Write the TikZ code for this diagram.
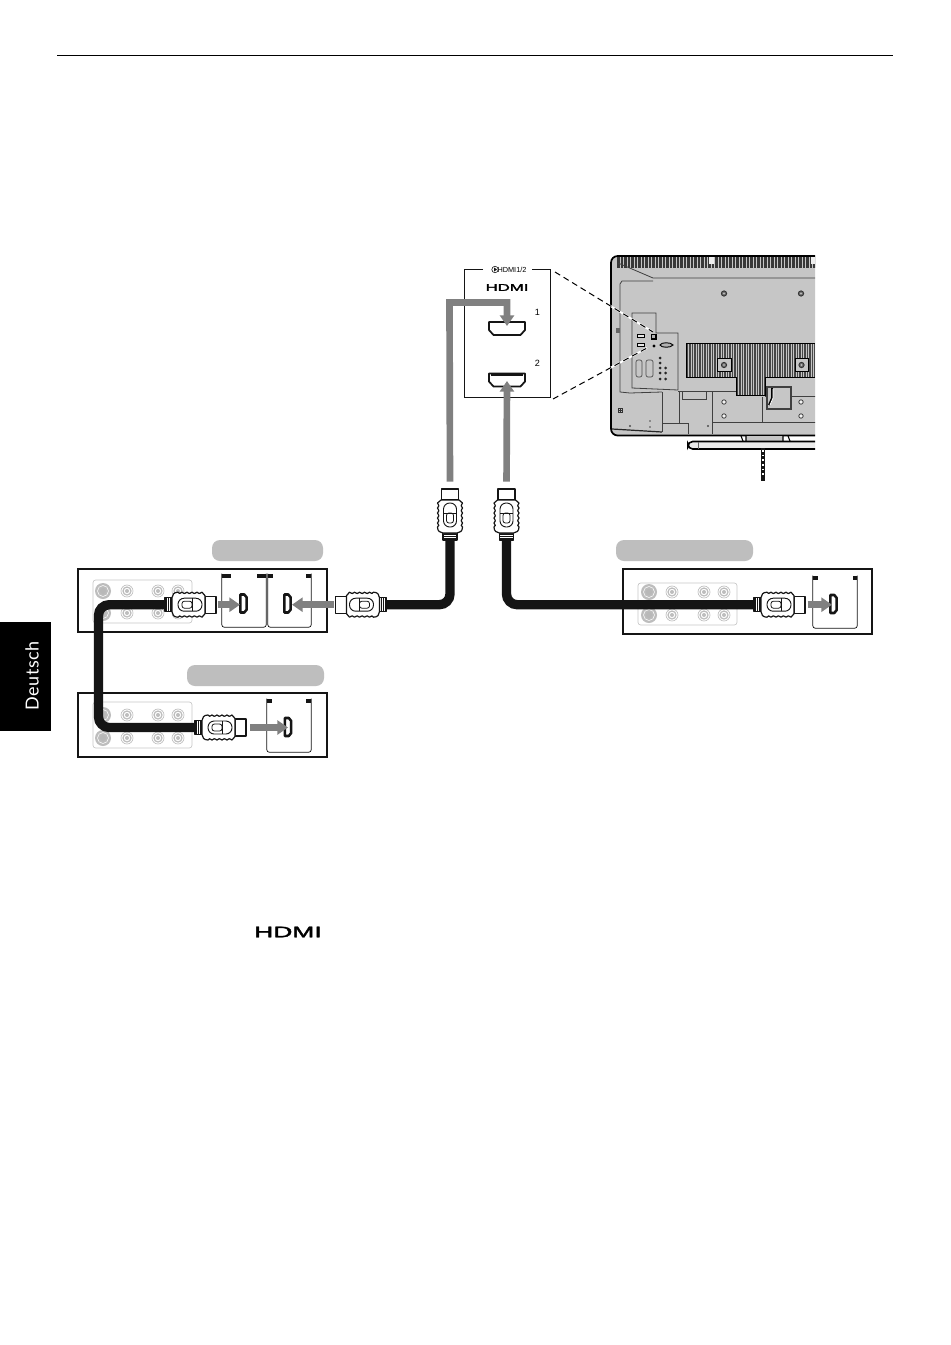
\documentclass[tikz,border=0pt]{standalone}
\usepackage{fontspec}
\usepackage{graphicx}
\setmainfont{Liberation Sans}
\newfontfamily\tabfont{Lato}
\newfontfamily\logofont[FakeBold=2]{Liberation Sans}
\usetikzlibrary{arrows.meta,fit,calc}
\pgfdeclarelayer{base}
\pgfdeclarelayer{cab}
\pgfsetlayers{base,cab,main}
\definecolor{pill}{HTML}{BEBEBE}
\definecolor{garrow}{HTML}{808080}
\definecolor{tvgrey}{HTML}{C6C6C6}
\definecolor{jackgrey}{HTML}{BDBDBD}
\definecolor{ink}{HTML}{151515}
\tikzset{
  devbox/.style={draw=ink,line width=1.5pt,inner sep=0pt,fill=white},
  cardbox/.style={inner sep=0pt},
  cardline/.style={draw=ink,line width=.55pt,rounded corners=2pt},
  pillbox/.style={fill=pill,rounded corners=6pt,inner sep=0pt},
  plate/.style={draw=black!22,line width=.5pt,rounded corners=2pt,inner sep=0pt},
  cable/.style={draw=ink,line width=7pt,rounded corners=8pt},
  sarrow/.style={draw=garrow,line width=5pt,-{Triangle[length=8pt,width=10.5pt]}},
  plugline/.style={draw=ink,line width=.9pt,fill=white,line join=round},
  tvline/.style={draw=black!75,line width=.6pt},
  plug/.pic={
    \coordinate (-tip) at (0,0);
    \coordinate (-tail) at (-51,0);
    \path[plugline] (-11,-8.5) rectangle (0,8.5);
    \path[plugline] (-51,-7) rectangle (-44,7);
    \foreach \q in {-49.5,-47.5,-45.5}{\draw[ink,line width=.6pt] (\q,-7)--(\q,7);}
    \path[plugline] (-44,-7) .. controls (-44,-10) and (-42,-12.5) .. (-38,-12.5)
      .. controls (-36.5,-10.8) .. (-34,-12.5) .. controls (-32,-10.8) .. (-29,-12.5)
      .. controls (-27,-10.8) .. (-24,-12.5) .. controls (-22,-10.8) .. (-19,-12.5)
      .. controls (-17,-10.8) .. (-14,-12.5) -- (-11,-9) -- (-11,9) -- (-14,12.5)
      .. controls (-17,10.8) .. (-19,12.5) .. controls (-22,10.8) .. (-24,12.5)
      .. controls (-27,10.8) .. (-29,12.5) .. controls (-32,10.8) .. (-34,12.5)
      .. controls (-36.5,10.8) .. (-38,12.5) .. controls (-42,12.5) and (-44,10) .. (-44,7) -- cycle;
    \draw[ink,line width=.7pt,rounded corners=4.6pt] (-38,-6.5) rectangle (-14,6.5);
    \draw[ink,line width=.6pt,rounded corners=1.8pt] (-34,-3.5) -- (-24,-3.5) -- (-24,3.5) -- (-34,3.5) -- cycle;
    \draw[ink,line width=.7pt] (-24,-6.5) -- (-24,6.5);
  },
  hdmiport/.pic={
    \draw[ink,line width=1.3pt,fill=white,line join=round]
      (-18,-6.5) -- (18,-6.5) -- (18,1.5) -- (13.5,6.5) -- (-13.5,6.5) -- (-18,1.5) -- cycle;
  },
  smallport/.pic={
    \draw[ink,line width=1.9pt,fill=white,line join=round]
      (-9,-3.2) -- (9,-3.2) -- (9,0.8) -- (6,3.2) -- (-6,3.2) -- (-9,0.8) -- cycle;
  },
  rca/.pic={
    \draw[jackgrey,line width=.5pt] (0,0) circle (6);
    \draw[jackgrey,line width=.9pt] (0,0) circle (4);
    \fill[jackgrey] (0,0) circle (2);
  },
  sjack/.pic={
    \fill[jackgrey] (0,0) circle (8);
    \draw[white,line width=.4pt] (0,0) circle (5.5);
    \fill[black!28] (0,0) circle (3);
  },
  screw/.pic={
    \draw[black!80,line width=.7pt,fill=black!55] (0,0) circle (2.6);
    \fill[tvgrey] (0,0) circle (.8);
  },
  hole/.pic={\draw[black!75,line width=.6pt,fill=white!80!tvgrey] (0,0) circle (2.2);},
}
\newcommand{\jackrow}[5]{% y, sjack x, rca x's
  \pic at (#2,#1) {sjack};
  \pic at (#3,#1) {rca};
  \pic at (#4,#1) {rca};
  \pic at (#5,#1) {rca};
}
\newcommand{\cardshape}[1]{\draw[cardline] (#1.north west) -- (#1.south west) -- (#1.south east) -- (#1.north east);}
\begin{document}
\begin{tikzpicture}[x=.75pt,y=-.75pt]
\useasboundingbox (0,0) rectangle (950,1345);
\begin{pgfonlayer}{base}
\fill[white] (0,0) rectangle (950,1345);

% page furniture
\draw[black,line width=.8pt] (57,55.5) -- (893,55.5);
\node[fill=black,inner sep=0pt,fit={(0,622)(51,731)}] (tab) {};
\node[rotate=90,text=white,font=\tabfont\fontsize{13.5}{15}\selectfont,inner sep=0pt] (tablabel) at (32,676) {\addfontfeature{LetterSpace=3.5}Deutsch};

% television (rear view)
\begin{scope}
\clip (605,250) rectangle (815,485);
\draw[black,line width=1.3pt,fill=tvgrey,rounded corners=5pt] (611,256) -- (840,256) -- (840,435.5) -- (611,435.5) -- cycle;
\fill[black!78] (617,257) rectangle (840,267.5);
\foreach \v in {620,623.5,...,815}{\draw[tvgrey,line width=.5pt] (\v,257) -- (\v,267.5);}
\fill[white!70!tvgrey] (709,257) rectangle (714,264);
\fill[white!70!tvgrey] (811,257) rectangle (815,264);
\draw[tvline] (618,263) -- (653,278) -- (840,278);
\draw[tvline] (653,281) -- (622,281) -- (620,284) -- (620,392) -- (630,393) -- (662,392);
% connector panel
\draw[tvline] (632,313) -- (656,313) -- (656,333) -- (678,333) -- (678,390) -- (632,388) -- cycle;
\fill[black!60] (615.5,327.5) rectangle (620,332.5);
\foreach \y in {336,345}{\draw[black,line width=.7pt,fill=white!60!tvgrey] (637.5,\y-1.5) rectangle (644,\y+1.5);}
\draw[black,line width=.8pt,fill=black!30] (651.5,334.5) rectangle (656,339);
\fill[black] (654,346) circle (1.6);
\draw[black,line width=.7pt,fill=black!30] (660,345) .. controls (661,342) and (671,342) .. (673,345) .. controls (671,348) and (661,348) .. (660,345) -- cycle;
\draw[black!70,line width=.5pt,rounded corners=1.5pt] (636,360) rectangle (642,377);
\draw[black!70,line width=.5pt,rounded corners=1.5pt] (646,360) rectangle (653,377);
\foreach \p in {(660,358),(660,363),(660,368),(665.5,368),(660,373),(665.5,373),(660,379),(665.5,379)}{\fill[black!85] \p circle (1.5);}
% vent block
\begin{scope}
\clip (686,343) -- (815,343) -- (815,377) -- (765,377) -- (765,395) -- (736,395) -- (736,377) -- (686,377) -- cycle;
\fill[black!72] (686,343) rectangle (815,395);
\foreach \v in {686,688.5,...,816}{\draw[tvgrey,line width=.5pt] (\v,343) -- (\v,395);}
\end{scope}
\draw[black,line width=.7pt] (686,377) -- (686,343) -- (815,343);
\draw[black,line width=.7pt] (686,377) -- (736,377) -- (736,395) -- (765,395) -- (765,377) -- (815,377);
\draw[black,line width=.6pt,fill=tvgrey] (717,358) rectangle (731,371);
\draw[black,line width=.6pt,fill=tvgrey] (795,358) rectangle (808,371);
\pic at (724,293.5) {screw};
\pic at (801,293.5) {screw};
\pic at (724,365) {screw};
\pic at (801.5,365) {screw};
% lower rear details
\draw[tvline] (662,392) -- (662,432);
\draw[tvline] (679,391) -- (679,423);
\draw[tvline] (662,423) -- (688,423) -- (688,434);
\draw[tvline] (682,391) -- (682,399) -- (706,399) -- (706,392);
\draw[tvline] (712,392) -- (712,434);
\draw[tvline] (712,422) -- (840,422);
\draw[tvline] (762,397) -- (762,422);
\draw[tvline] (678,391) -- (736,391);
\draw[tvline] (765,396) -- (840,396);
\draw[black!85,line width=.9pt] (612,429) -- (662,432);
\draw[black!75,line width=.8pt,fill=tvgrey] (767,387) rectangle (791,409);
\draw[black,line width=1.4pt] (772,388) -- (772,398) -- (769,405);
\draw[white,line width=.6pt] (773,389) -- (773,398) -- (770,405);
\pic at (724,402) {hole};
\pic at (724,416) {hole};
\pic at (801,402) {hole};
\pic at (801,416) {hole};
\draw[black!80,line width=.5pt] (618,408) rectangle (622.5,412.5);
\draw[black!80,line width=.4pt] (620.2,408) -- (620.2,412.5) (618,410.2) -- (622.5,410.2);
\fill[black!70] (630,426) circle (1.1);
\fill[black!70] (708,426) circle (1.1);
\fill[black!70] (650,421) circle (.9);
\fill[black!70] (650,427) circle (.9);
% stand
\fill[tvgrey] (746,436) rectangle (783,441);
\draw[black,line width=.8pt] (741,436) -- (743,441) (746,436) -- (746,441) (783,436) -- (783,441) (788,436) -- (790,441);
\draw[black,line width=1.2pt,fill=black!8,rounded corners=3.5pt] (688,441.5) rectangle (850,449);
\draw[black!60,line width=.5pt] (698,442) -- (698,449);
% stand cord
\draw[ink,line width=3.2pt] (763,448) -- (763,481);
\draw[white,line width=1.6pt,dash pattern=on 1.2pt off 2.3pt] (763,450) -- (763,475);
\end{scope}

% enlargement frame
\draw[ink,line width=.7pt] (483,269) -- (464,269) -- (464,397) -- (550,397) -- (550,269) -- (532,269);
\node[font=\fontsize{5.5}{6}\selectfont,inner sep=0pt] (hdmilab) at (512,269.5) {HDMI1/2};
\draw[ink,line width=.45pt] (495,269.5) circle (3.2);
\fill[ink] (494,267.5) -- (497,269.5) -- (494,271.5) -- cycle;
\node[font=\logofont\fontsize{7.3}{8}\selectfont,inner sep=0pt] (logoa) at (507,287.5) {\scalebox{1.72}[1]{HDMI}};
\node[font=\fontsize{6.8}{8}\selectfont,inner sep=0pt] (numa) at (537.5,312) {1};
\node[font=\fontsize{6.8}{8}\selectfont,inner sep=0pt] (numb) at (537.5,363) {2};
\pic at (507,328.5) {hdmiport};
\pic at (507,380) {hdmiport};
\draw[ink,line width=1.8pt] (491,374.5) -- (523,374.5);
\coordinate (porta) at (507,326);
\coordinate (portb) at (507,381);
\coordinate (leadaa) at (555,272);
\coordinate (leadab) at (653,332);
\coordinate (leadba) at (553,399);
\coordinate (leadbb) at (647,348);

% leader lines
\draw[white,line width=1.4pt] ($(leadab)!.72!(leadaa)$) -- (leadab);
\draw[white,line width=1.4pt] ($(leadbb)!.65!(leadba)$) -- (leadbb);
\draw[black,line width=.75pt,dash pattern=on 4.5pt off 3pt] (leadaa) -- (leadab);
\draw[black,line width=.75pt,dash pattern=on 4.5pt off 3pt] (leadba) -- (leadbb);

% labels (blanked in the source)
\node[pillbox,fit={(212,540)(323,561)}] (pilla) {};
\node[pillbox,fit={(187,665)(324,686)}] (pillb) {};
\node[pillbox,fit={(616,540)(753,561)}] (pillc) {};

% devices
\node[devbox,fit={(78,568.5)(327,632)}] (boxa) {};
\node[devbox,fit={(78,693)(327,757)}] (boxb) {};
\node[devbox,fit={(623,568.5)(872,634)}] (boxc) {};

\node[plate,fit={(93,580)(192,623)}] (platea) {};
\node[plate,fit={(93,702)(192,748)}] (plateb) {};
\node[plate,fit={(638,583)(737,625)}] (platec) {};
\jackrow{591}{103}{127}{158}{178}
\jackrow{613}{103}{127}{158}{178}
\jackrow{715}{103}{127}{158}{178}
\jackrow{738}{103}{127}{158}{178}
\jackrow{592}{649}{672}{704}{724}
\jackrow{615}{649}{672}{704}{724}

\node[cardbox,fit={(222,574)(266,627)}] (carda) {};
\node[cardbox,fit={(268,574)(311,627)}] (cardb) {};
\node[cardbox,fit={(267,699)(311,752)}] (cardc) {};
\node[cardbox,fit={(813,576)(857,628)}] (cardd) {};
\cardshape{carda}\cardshape{cardb}\cardshape{cardc}\cardshape{cardd}
\foreach \a/\w in {222/9,257/9,268/5,306/5}{\fill[ink] (\a,574) rectangle ++(\w,4);}
\foreach \a in {267,306}{\fill[ink] (\a,699) rectangle ++(5,4);}
\foreach \a in {813,852.5}{\fill[ink] (\a,576) rectangle ++(4.5,4);}

\pic[rotate=90] at (243.5,603.5) {smallport};
\pic[rotate=90] at (287.5,603.5) {smallport};
\pic[rotate=90] at (288,727) {smallport};
\pic[rotate=90] at (833.5,604) {smallport};
\end{pgfonlayer}
\coordinate (jacka) at (240,604.7);
\coordinate (jackb) at (292,604.7);
\coordinate (jackc) at (288,727.5);
\coordinate (jackd) at (832,604.7);

% plugs
\pic (pa) at (216,604.7) {plug};
\pic (pb) at (246,727.5) {plug};
\pic[rotate=180] (pc) at (335.5,604.7) {plug};
\pic[rotate=90] (pd) at (450,489) {plug};
\pic[rotate=90] (pe) at (506.5,489) {plug};
\pic (pf) at (805,604.7) {plug};

% cables
\coordinate (ca) at (98.5,604.7);
\coordinate (cb) at (98.5,727.5);
\coordinate (cc) at (450,604.7);
\coordinate (cd) at (506.5,604.7);
\begin{pgfonlayer}{cab}
\draw[cable] (pa-tail) -- (ca) -- (cb) -- (pb-tail);
\draw[cable] (pc-tail) -- (cc) -- (pd-tail);
\draw[cable] (pe-tail) -- (cd) -- (pf-tail);
\end{pgfonlayer}

% signal arrows
\coordinate (ba) at (449.5,302.5);
\coordinate (bb) at (507,302.5);
\draw[sarrow,shorten <=5.6pt] (pd-tip) -- (ba) -- (bb) -- (porta);
\draw[sarrow,shorten <=5.6pt] (pe-tip) -- (portb);
\draw[sarrow,shorten <=1.5pt] (pa-tip) -- (jacka);
\draw[sarrow,shorten <=1.5pt] (pc-tip) -- (jackb);
\draw[sarrow,shorten <=3pt] (pb-tip) -- (jackc);
\draw[sarrow,shorten <=2pt] (pf-tip) -- (jackd);

% logo in the text area
\node[font=\logofont\fontsize{11.5}{12}\selectfont,inner sep=0pt] (logob) at (288,932) {\scalebox{1.72}[1]{HDMI}};
\end{tikzpicture}
\end{document}
